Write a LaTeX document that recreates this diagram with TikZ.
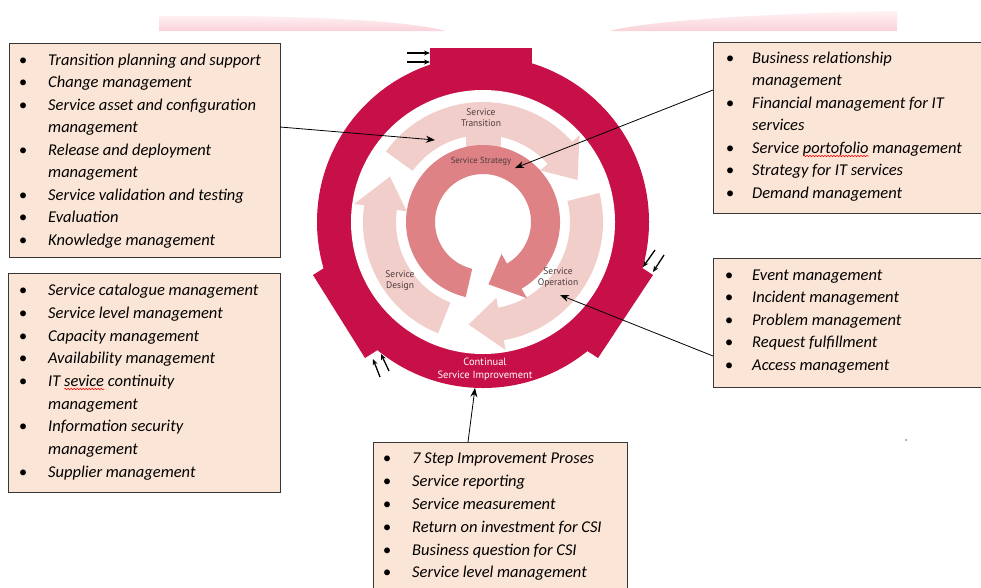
\documentclass[tikz,border=0pt]{standalone}
\usepackage{fontspec}
\setmainfont{Carlito}
\newfontfamily\lblfont{PT Sans}
\usetikzlibrary{arrows.meta,calc,decorations.pathmorphing}
\definecolor{csired}{RGB}{200,16,72}
\definecolor{lightarr}{RGB}{242,206,202}
\definecolor{darkarr}{RGB}{222,130,134}
\definecolor{boxfill}{RGB}{251,229,214}
\definecolor{boxline}{RGB}{55,55,55}
\definecolor{lbltxt}{RGB}{78,58,60}
\definecolor{bandtop}{RGB}{255,242,244}
\definecolor{bandbot}{RGB}{250,210,216}
\newcommand\itemfont{\fontsize{16.5}{20}\selectfont\itshape}
\newcommand\arcarrow[8]{% color, a, b, t, ri, ro, e, center
  \fill[#1] ($(#8)+(#2:#6)$) arc[start angle=#2, end angle=#3, radius=#6]
    -- ($(#8)+(#3:#6+#7)$) -- ($(#8)+(#4:#5/2+#6/2)$) -- ($(#8)+(#3:#5-#7)$)
    -- ($(#8)+(#3:#5)$) arc[start angle=#3, end angle=#2, radius=#5] -- cycle;}
\begin{document}
\begin{tikzpicture}[x=1pt,y=-1pt,
  listbox/.style={draw=boxline, fill=boxfill, line width=1pt, inner sep=0, anchor=north west},
  item/.style={anchor=base west, inner sep=0, font=\itemfont},
  bul/.style={anchor=base, inner sep=0, font=\itemfont},
  lbl/.style={align=center, inner sep=0, font=\lblfont\fontsize{9.5}{11}\selectfont, text=lbltxt},
  conn/.style={draw=black, line width=0.8pt, -{Stealth[length=9pt,width=7pt]}},
  pair/.style={draw=black, line width=1.3pt, -{Stealth[length=6pt,width=5pt]}},
  squiggle/.style={draw=red, line width=0.5pt, decorate, decoration={snake, amplitude=0.8pt, segment length=3pt}}]
\clip (0,0) rectangle (981,587);
\fill[white] (0,0) rectangle (981,587);
% faded band at the top
\shade[top color=bandtop, bottom color=bandbot] (159,31) -- (159,16) .. controls (260,15) and (400,18) .. (445,31) -- cycle;
\shade[top color=bandtop, bottom color=bandbot] (610,31) .. controls (650,20) and (780,13) .. (897,11) -- (897,31) -- cycle;
% outer ring: continual service improvement
\coordinate (C) at (483,222);
\fill[csired] (C) circle[radius=166];
\fill[csired] (430,48) rectangle (532,95);
\fill[csired] (653,275) -- (598,358) -- (569,339) -- (624,256) -- cycle;
\fill[csired] (313,275) -- (365,358) -- (395,339) -- (343,256) -- cycle;
\fill[white] (C) circle[radius=132];
% light arrows
\coordinate (L) at (483,222);
\fill[lightarr] (466,128) rectangle (501,152);
\arcarrow{lightarr}{216}{318}{336}{87}{120}{10}{L}
\arcarrow{lightarr}{346}{440}{458}{87}{120}{10}{L}
\arcarrow{lightarr}{112}{188}{206}{87}{120}{10}{L}
% service strategy arrow
\arcarrow{darkarr}{103}{420}{445}{48}{77}{11}{L}
% labels
\node[lbl] (tST) at (481,118) {Service\\Transition};
\node[lbl, font=\lblfont\fontsize{8.8}{11}\selectfont] (tSS) at (481,161) {Service Strategy};
\node[lbl] (tSD) at (400,281) {Service\\Design};
\node[lbl] (tSO) at (558,278) {Service\\Operation};
\node[lbl, text=white, font=\lblfont\fontsize{10.5}{13}\selectfont] (tCSI) at (485,369) {Continual\\Service Improvement};
% small arrow pairs at the tabs
\draw[pair] (407,53) -- (430,53);
\draw[pair] (407,62) -- (430,62);
\draw[pair] (655,250) -- (643,267);
\draw[pair] (664,255) -- (653,272);
\draw[pair] (380,377) -- (373,359);
\draw[pair] (389,371) -- (381,354);
% boxes
\node[listbox, minimum width=271pt, minimum height=214pt] (boxA) at (9,43) {};
\node[listbox, minimum width=272pt, minimum height=219pt] (boxB) at (8,273) {};
\node[listbox, minimum width=268pt, minimum height=171pt] (boxC) at (713,42) {};
\node[listbox, minimum width=268pt, minimum height=129pt] (boxD) at (713,258) {};
\node[listbox, minimum width=254pt, minimum height=160pt] (boxE) at (373,442) {};
% box A
\foreach \y/\t [count=\i] in {65/Transition planning and support, 87.5/Change management, 110/Service asset and configuration, 155/Release and deployment, 200/Service validation and testing, 222.5/Evaluation, 245/Knowledge management} {
  \node[bul] (Ab\i) at (23,\y) {\textbullet};
  \node[item] (At\i) at (48,\y) {\t};
}
\foreach \y [count=\i] in {132.5,177.5} \node[item] (Ac\i) at (48,\y) {management};
% box B
\foreach \y/\t [count=\i] in {295/Service catalogue management, 318/Service level management, 341/Capacity management, 363.5/Availability management, 386/IT sevice continuity, 431.5/Information security, 477/Supplier management} {
  \node[bul] (Bb\i) at (23,\y) {\textbullet};
  \node[item] (Bt\i) at (48,\y) {\t};
}
\node[item] (Bw1) at (48,386) {\phantom{IT }};
\node[item] (Bw2) at (48,386) {\phantom{IT sevice}};
\draw[squiggle] ($(Bw1.base east)+(0,3)$) -- ($(Bw2.base east)+(0,3)$);
\foreach \y [count=\i] in {409,454} \node[item] (Bc\i) at (48,\y) {management};
% box C
\foreach \y/\t [count=\i] in {63/Business relationship, 108/Financial management for IT, 153/Service portofolio management, 175.5/Strategy for IT services, 198/Demand management} {
  \node[bul] (Cb\i) at (730,\y) {\textbullet};
  \node[item] (Ct\i) at (752,\y) {\t};
}
\node[item] (Cw1) at (752,153) {\phantom{Service }};
\node[item] (Cw2) at (752,153) {\phantom{Service portofolio}};
\draw[squiggle] ($(Cw1.base east)+(0,3)$) -- ($(Cw2.base east)+(0,3)$);
\node[item] (Cc1) at (752,85.5) {management};
\node[item] (Cc2) at (752,130.5) {services};
% box D
\foreach \y/\t [count=\i] in {280/Event management, 302.5/Incident management, 325/Problem management, 347.5/Request fulfillment, 370/Access management} {
  \node[bul] (Db\i) at (729,\y) {\textbullet};
  \node[item] (Dt\i) at (752,\y) {\t};
}
% box E
\foreach \y/\t [count=\i] in {463/7 Step Improvement Proses, 486/Service reporting, 509/Service measurement, 532/Return on investment for CSI, 555/Business question for CSI, 577.5/Service level management} {
  \node[bul] (Eb\i) at (387,\y) {\textbullet};
  \node[item] (Et\i) at (412,\y) {\t};
}
% connectors
\coordinate (sA) at (280,127);
\coordinate (pA) at (435,140);
\coordinate (sC) at (713,90);
\coordinate (pC) at (515,168);
\coordinate (sD) at (713,356);
\coordinate (pD) at (560,295);
\coordinate (sE) at (468,442);
\coordinate (pE) at (475,388);
\draw[conn] (sA) -- (pA);
\draw[conn] (sC) -- (pC);
\draw[conn] (sD) -- (pD);
\draw[conn] (sE) -- (pE);
\fill[gray] (906,440) circle[radius=1];
\end{tikzpicture}
\end{document}
